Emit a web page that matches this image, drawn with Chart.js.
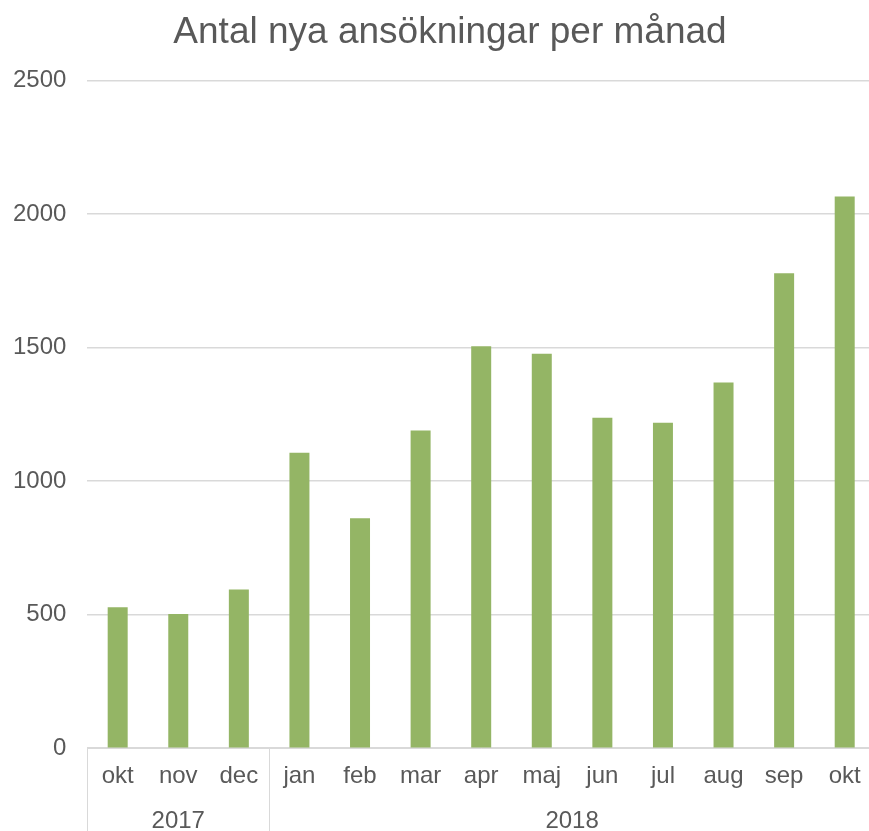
<!DOCTYPE html>
<html lang="sv">
<head>
  <meta charset="UTF-8">
  <title>Antal nya ansökningar per månad</title>
  <script src="https://cdn.jsdelivr.net/npm/chart.js"></script>
  <style>
    html, body { margin: 0; padding: 0; background: white; overflow: hidden; }
    #wrap { width: 869px; height: 831px; overflow: hidden; }
  </style>
</head>
<body>
  <div id="wrap">
    <canvas id="chart" width="875" height="831"></canvas>
  </div>

  <script>
    const months = ['okt', 'nov', 'dec', 'jan', 'feb', 'mar', 'apr', 'maj', 'jun', 'jul', 'aug', 'sep', 'okt'];
    const applications = [528, 502, 594, 1106, 861, 1189, 1505, 1477, 1237, 1218, 1369, 1778, 2065];
    const years = ['2017', '2018'];
    const monthsPerYear = [3, 10];
    const yTicks = [0, 500, 1000, 1500, 2000, 2500];

    const textColor = '#595959';
    const lineColor = '#d9d9d9';

    Chart.defaults.font.family = '"Liberation Sans", Arial, sans-serif';

    // second row of x labels: years with separators
    const yearRow = {
      id: 'yearRow',
      afterLayout(chart) {
        // title sits a bit right of the canvas centre in the original
        if (chart.titleBlock) chart.titleBlock.left += 33;
      },
      afterDraw(chart) {
        const ctx = chart.ctx;
        const x = chart.scales.x;
        const bottom = chart.chartArea.bottom;
        const step = x.width / months.length;
        let start = 0;
        ctx.save();
        ctx.strokeStyle = lineColor;
        ctx.lineWidth = 1;
        ctx.fillStyle = textColor;
        ctx.font = '24px "Liberation Sans", Arial, sans-serif';
        ctx.textAlign = 'center';
        ctx.textBaseline = 'middle';
        years.forEach((yr, i) => {
          const left = x.getPixelForValue(start) - step / 2;
          const right = x.getPixelForValue(start + monthsPerYear[i] - 1) + step / 2;
          ctx.beginPath();
          ctx.moveTo(Math.round(left) + 0.5, bottom);
          ctx.lineTo(Math.round(left) + 0.5, chart.height);
          ctx.stroke();
          ctx.fillText(yr, (left + right) / 2, 821);
          start += monthsPerYear[i];
        });
        ctx.restore();
      }
    };

    new Chart(document.getElementById('chart'), {
      type: 'bar',
      data: {
        labels: months,
        datasets: [{
          data: applications,
          backgroundColor: '#94b565',
          barPercentage: 0.33,
          categoryPercentage: 1.0
        }]
      },
      options: {
        responsive: false,
        animation: false,
        layout: { padding: { left: -8, right: 0, top: 0, bottom: 34 } },
        plugins: {
          legend: { display: false },
          tooltip: { enabled: false },
          title: {
            display: true,
            text: 'Antal nya ansökningar per månad',
            color: textColor,
            font: { size: 37, weight: 'normal' },
            padding: { top: 11, bottom: 25 }
          }
        },
        scales: {
          x: {
            grid: { display: false },
            border: { color: lineColor, width: 1 },
            ticks: {
              color: textColor,
              font: { size: 24 },
              padding: 6,
              maxRotation: 0,
              autoSkip: false
            }
          },
          y: {
            min: 0,
            max: 2500,
            afterBuildTicks: axis => { axis.ticks = yTicks.map(v => ({ value: v })); },
            grid: { color: lineColor, lineWidth: 1.5, drawTicks: false },
            border: { display: false },
            ticks: {
              color: textColor,
              font: { size: 24 },
              padding: 21,
              callback: v => String(v)
            }
          }
        }
      },
      plugins: [yearRow]
    });
  </script>
</body>
</html>
